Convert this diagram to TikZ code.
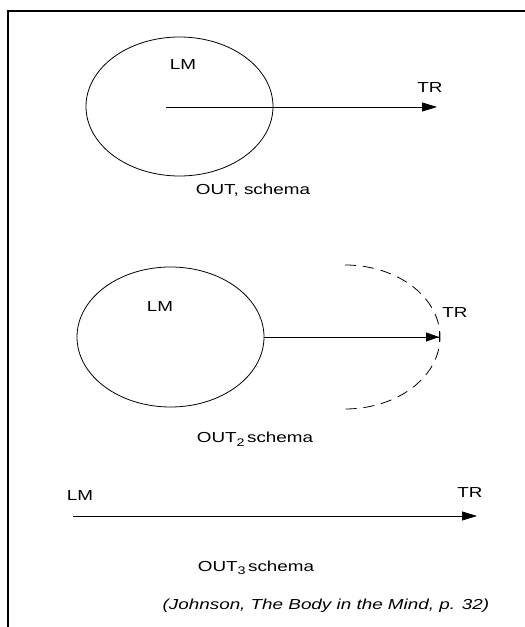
\documentclass[tikz,border=0pt]{standalone}
\usepackage{fontspec}
\setmainfont{Liberation Sans}[FakeStretch=1.3]
\usetikzlibrary{shapes.geometric, arrows.meta, positioning}
\newcommand{\lowidx}[1]{\raisebox{-3.5pt}{\fontsize{11}{11}\selectfont #1}}

\begin{document}
\begin{tikzpicture}[x=1pt, y=1pt,
    lbl/.style={inner sep=0pt, font=\fontsize{14.5}{17}\selectfont},
    zone/.style={draw, ellipse, line width=0.8pt, minimum width=187pt, minimum height=139pt},
    pathway/.style={line width=0.8pt, -{Triangle[length=15pt, width=9pt]}}]
    % Rahmen
    \useasboundingbox (0,0) rectangle (525,627);
    \draw[line width=1.6pt] (8,0) -- (8,616) -- (525,616);

    % OUT1
    \node[zone] (lm1) at (179.5,520.5) {};
    \coordinate (src1) at (166,520);
    \coordinate (tr1) at (437,520);
    \draw[pathway] (src1) -- (tr1);
    \node[lbl] (lmlabel1) at (183,562) {LM};
    \node[lbl] (trlabel1) at (430,539) {TR};
    \node[lbl] (name1) at (253,437) {OUT, schema};

    % OUT2
    \node[zone, minimum height=140pt] (lm2) at (170.5,290) {};
    \coordinate (tr2) at (440,290);
    \draw[line width=0.8pt, -{Triangle[length=13pt, width=9pt, sep=0pt]Bar[width=11pt, line width=1pt]}] (lm2.east) -- (tr2);
    \draw[line width=0.8pt, dash pattern=on 11pt off 7pt] (345,362) arc[start angle=90, end angle=-90, x radius=95, y radius=72];
    \node[lbl] (lmlabel2) at (160,320) {LM};
    \node[lbl] (trlabel2) at (455,314) {TR};
    \node[lbl] (name2) at (255,188) {OUT\lowidx{2}\,schema};

    % OUT3
    \coordinate (lm3) at (73,111);
    \coordinate (tr3) at (477,111);
    \draw[pathway] (lm3) -- (tr3);
    \node[lbl] (lmlabel3) at (80,131) {LM};
    \node[lbl] (trlabel3) at (470,134) {TR};
    \node[lbl] (name3) at (256,59) {OUT\lowidx{3}\,schema};

    % Quelle
    \node[lbl, font=\fontsize{14.5}{17}\selectfont\itshape] (source) at (326,21) {(Johnson, The Body in the Mind, p. 32)};
\end{tikzpicture}
\end{document}
